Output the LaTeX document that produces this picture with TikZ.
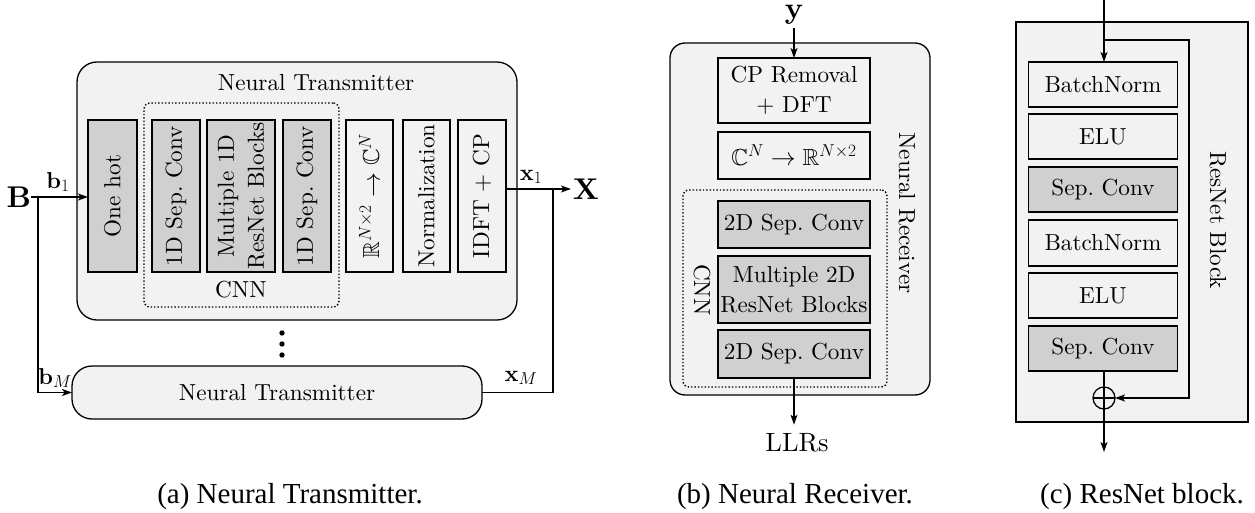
\documentclass[tikz,border=0pt]{standalone}
\usepackage{amssymb}
\usepackage{fontspec}
\setmainfont{lmroman10-regular.otf}[BoldFont=lmroman10-bold.otf, ItalicFont=lmroman10-italic.otf]
\newfontfamily\capfont{Liberation Serif}
\usetikzlibrary{arrows.meta}
\definecolor{bglight}{HTML}{F2F2F2}
\definecolor{boxgray}{HTML}{D0D0D0}
\begin{document}
\begin{tikzpicture}[x=1pt,y=-1pt,
  every node/.style={inner sep=0pt, outer sep=0pt},
  txt/.style={font=\fontsize{23.2}{30}\selectfont, align=center},
  bx/.style={txt, draw, line width=1.3pt},
  gbx/.style={bx, fill=boxgray},
  outerbox/.style={draw, line width=1.3pt, fill=bglight},
  cnnbox/.style={draw, dotted, line width=1.4pt, rounded corners=6pt},
  conn/.style={line width=1.3pt},
  arr/.style={conn, -{Stealth[length=10pt,width=7pt,inset=2.5pt]}},
  biglbl/.style={font=\fontsize{30}{32}\selectfont},
  sublbl/.style={font=\fontsize{23}{26}\selectfont},
  captext/.style={font=\capfont\fontsize{29}{32}\selectfont}
]
\useasboundingbox (0,0) rectangle (1255,513);

% ---------------- (a) Neural Transmitter ----------------
\node[outerbox, rounded corners=20pt, minimum width=440, minimum height=258] (ntx) at (297,191) {};
\node[txt] (ntxt) at (316,83) {Neural Transmitter};
\node[cnnbox, minimum width=195, minimum height=204] (cnna) at (241.5,205) {};
\node[txt] (cnnal) at (241,290) {CNN};

\node[gbx, rotate=90, minimum width=152, minimum height=49] (oh) at (112.5,196) {One hot};
\node[gbx, rotate=90, minimum width=152, minimum height=48] (c1) at (176,196) {1D Sep.\ Conv};
\node[gbx, rotate=90, minimum width=152, minimum height=68] (rb) at (241,196) {Multiple 1D\\ResNet Blocks};
\node[gbx, rotate=90, minimum width=152, minimum height=48] (c2) at (307,196) {1D Sep.\ Conv};
\node[bx, rotate=90, minimum width=152, minimum height=47] (rc) at (369.5,196) {$\mathbb{R}^{N\times 2}\to\mathbb{C}^{N}$};
\node[bx, rotate=90, minimum width=152, minimum height=47] (nm) at (426.5,196) {Normalization};
\node[bx, rotate=90, minimum width=152, minimum height=48] (idft) at (482,196) {IDFT + CP};

\node[outerbox, txt, rounded corners=20pt, minimum width=410, minimum height=53] (ntm) at (277,392.5) {Neural Transmitter};

\fill (282,333) circle (2.7) (282,344) circle (2.7) (282,355) circle (2.7);

\node[biglbl] (B) at (19,197) {$\mathbf{B}$};
\coordinate (bs) at (38,197);
\draw[arr] (B.east) -- (B.east -| oh.north);
\draw[arr] (bs) |- (ntm.west);
\node[sublbl] (lb1) at (58,182) {$\mathbf{b}_1$};
\node[sublbl] (lbm) at (55,378) {$\mathbf{b}_M$};

\coordinate (xj) at (553,189);
\node[biglbl, outer xsep=2pt] (X) at (586,189) {$\mathbf{X}$};
\draw[conn] (idft.south |- xj) -- (xj);
\draw[arr] (xj) -- (X.west);
\draw[conn] (xj) |- (ntm.east);
\node[sublbl] (lx1) at (531,177) {$\mathbf{x}_1$};
\node[sublbl] (lxm) at (521,378) {$\mathbf{x}_M$};

% ---------------- (b) Neural Receiver ----------------
\node[outerbox, rounded corners=15pt, minimum width=260, minimum height=352] (rx) at (800,219) {};
\node[txt, rotate=-90] (rxt) at (907,213) {Neural Receiver};
\node[cnnbox, minimum width=204, minimum height=197] (cnnb) at (785,288.5) {};
\node[txt, rotate=-90] (cnnbl) at (702,290) {CNN};

\node[bx, minimum width=152, minimum height=65] (cp) at (794,90.5) {CP Removal\\+ DFT};
\node[bx, minimum width=152, minimum height=47] (c2r) at (794,155.5) {$\mathbb{C}^{N}\to\mathbb{R}^{N\times 2}$};
\node[gbx, minimum width=152, minimum height=47] (s1) at (794,224.5) {2D Sep.\ Conv};
\node[gbx, minimum width=152, minimum height=67] (mr) at (794,289.5) {Multiple 2D\\ResNet Blocks};
\node[gbx, minimum width=152, minimum height=48] (s2) at (794,354) {2D Sep.\ Conv};

\node[font=\fontsize{30}{30}\selectfont, anchor=base, outer ysep=3pt] (yy) at (794,19) {$\mathbf{y}$};
\draw[arr] (yy.south) -- (cp.north);
\node[font=\fontsize{26.5}{30}\selectfont, outer ysep=9pt] (llr) at (797,443) {LLRs};
\draw[arr] (s2.south) -- (s2.south |- llr.north);

% ---------------- (c) ResNet block ----------------
\node[outerbox, minimum width=232, minimum height=400] (rbo) at (1132,222) {};
\node[txt, rotate=-90] (rbt) at (1218,220) {ResNet Block};

\node[bx, minimum width=149, minimum height=45] (bn1) at (1103,84.5) {BatchNorm};
\node[bx, minimum width=149, minimum height=45] (elu1) at (1103,136.5) {ELU};
\node[gbx, minimum width=149, minimum height=45] (sc1) at (1103,189.5) {Sep.\ Conv};
\node[bx, minimum width=149, minimum height=46] (bn2) at (1103,243) {BatchNorm};
\node[bx, minimum width=149, minimum height=45] (elu2) at (1103,295.5) {ELU};
\node[gbx, minimum width=149, minimum height=45] (sc2) at (1103,348.5) {Sep.\ Conv};

\node[draw, circle, line width=1.3pt, minimum size=22] (plus) at (1104,398) {};
\draw[conn] (plus.north) -- (plus.south) (plus.west) -- (plus.east);

\coordinate (rin) at (1104,0);
\coordinate (sk) at (1104,40);
\coordinate (skr) at (1189,40);
\coordinate (rout) at (1104,452);
\draw[arr] (rin) -- (rin |- bn1.north);
\draw[arr] (sk) -- (skr) |- (plus.east);
\draw[conn] (sc2.south -| plus.north) -- (plus.north);
\draw[arr] (plus.south) -- (rout);

% ---------------- captions ----------------
\node[captext] (capa) at (290,497) {(a) Neural Transmitter.};
\node[captext] (capb) at (795,497) {(b) Neural Receiver.};
\node[captext] (capc) at (1142,497) {(c) ResNet block.};
\end{tikzpicture}
\end{document}
